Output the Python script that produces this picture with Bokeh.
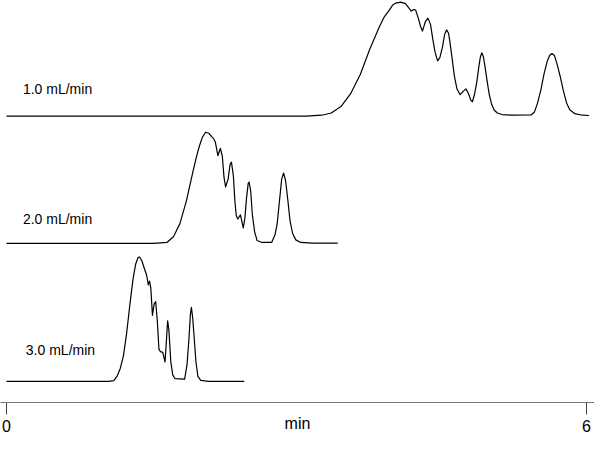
from bokeh.plotting import figure
from bokeh.models import Range1d, LinearAxis, FixedTicker, ColumnDataSource
from bokeh.core.properties import value
from bokeh.embed import file_html
from bokeh.resources import INLINE

# ---- data (time in min, signal in arbitrary units) ----
t_1 = [0.000, 3.100, 3.260, 3.360, 3.460, 3.560, 3.660, 3.760, 3.860, 3.910, 3.960,
       3.993, 4.027, 4.077, 4.127, 4.160, 4.187, 4.213, 4.233, 4.260, 4.283, 4.303,
       4.333, 4.360, 4.387, 4.410, 4.433, 4.460, 4.483, 4.510, 4.533, 4.553, 4.573,
       4.583, 4.610, 4.633, 4.660, 4.693, 4.727, 4.753, 4.780, 4.803, 4.820, 4.843,
       4.867, 4.887, 4.903, 4.917, 4.933, 4.950, 4.970, 4.993, 5.017, 5.043, 5.077,
       5.127, 5.227, 5.427, 5.460, 5.493, 5.527, 5.560, 5.593, 5.620, 5.643, 5.667,
       5.693, 5.727, 5.760, 5.793, 5.827, 5.877, 5.960, 6.027]
s_1 = [0, 0, 1, 3.3, 10, 23.3, 43.3, 70, 93.3, 103.3, 110,
       115, 117.3, 118.3, 116.7, 112.7, 109, 110.7, 110, 101.7, 93.3, 88.3,
       98, 101.7, 95, 80, 66.7, 57.3, 60.7, 71.7, 85, 89.5, 86,
       80, 60, 41.7, 28.3, 22.3, 26, 28.3, 23.3, 16.7, 15, 23,
       36.7, 51.7, 61.7, 65.7, 61.7, 51.7, 38, 23, 13, 6.7, 3.3,
       1.7, 1, 1.3, 4, 13.3, 26.7, 43.3, 56.7, 63.3, 65, 63.3,
       55, 41.7, 26.7, 14, 6.7, 2.7, 1, 0.7]

t_2 = [0.000, 1.500, 1.560, 1.660, 1.727, 1.793, 1.860, 1.927, 1.960, 1.993, 2.027,
       2.060, 2.093, 2.120, 2.143, 2.160, 2.187, 2.213, 2.233, 2.250, 2.267, 2.293,
       2.313, 2.327, 2.347, 2.363, 2.377, 2.393, 2.420, 2.450, 2.467, 2.483, 2.500,
       2.510, 2.527, 2.543, 2.567, 2.593, 2.643, 2.743, 2.777, 2.800, 2.827, 2.847,
       2.867, 2.887, 2.910, 2.933, 2.960, 2.993, 3.043, 3.160, 3.427]
s_2 = [0, 0, 0.3, 1, 7, 20.3, 43.7, 73.7, 87.7, 100.3, 110.3,
       115.3, 114.3, 111, 108.7, 105.3, 91, 98.7, 90.3, 68.7, 58.7, 67,
       82, 84.3, 70.3, 43.7, 28.7, 25.3, 29.7, 16, 27, 47, 62,
       63.7, 53.7, 30.3, 12, 3, 1, 1, 8.7, 20.3, 47, 67,
       73, 65.3, 45.3, 23.7, 10.3, 3.7, 1, 0.3, 0.3]

t_3 = [0.000, 1.060, 1.110, 1.143, 1.177, 1.210, 1.243, 1.277, 1.310, 1.337, 1.360,
       1.377, 1.400, 1.427, 1.450, 1.467, 1.480, 1.493, 1.510, 1.527, 1.543, 1.560,
       1.577, 1.593, 1.617, 1.640, 1.653, 1.667, 1.680, 1.700, 1.720, 1.743, 1.843,
       1.867, 1.887, 1.903, 1.913, 1.927, 1.943, 1.960, 1.980, 2.010, 2.093, 2.460]
s_3 = [0, 0, 0.7, 5, 13.3, 26.7, 50, 80, 106.7, 121.7, 128.3,
       129, 125, 116.7, 110, 100, 104, 96.7, 68.3, 80, 82.7, 63.3,
       33.3, 30.7, 30, 20, 40, 62.7, 53.3, 20, 6.7, 2.7, 2.3,
       16.7, 43.3, 70, 76.7, 65, 43.3, 20, 5, 1, 0, 0]

flow_labels = ["1.0 mL/min", "2.0 mL/min", "3.0 mL/min"]
x_ticks = [0, 6]
x_title = "min"

# ---- layout constants ----
baselines = [297, 165, 22]
label_x = [0.17, 0.17, 0.20]
label_dy = [28, 25, 32]

FONT = "Liberation Sans Narrow, Liberation Sans, Arial, sans-serif"

p = figure(width=594, height=434, output_backend="svg", toolbar_location=None,
           x_range=Range1d(-0.062, 6.083), y_range=Range1d(0, 417),
           x_axis_location=None, y_axis_location=None,
           min_border_left=0, min_border_right=0, min_border_top=0, min_border_bottom=0)
p.xgrid.visible = False
p.ygrid.visible = False
p.outline_line_color = None

for t, s, b in zip([t_1, t_2, t_3], [s_1, s_2, s_3], baselines):
    src = ColumnDataSource(dict(t=t, y=[v + b for v in s]))
    p.line("t", "y", source=src, line_color="black", line_width=1.2,
           line_join="round")

lab_src = ColumnDataSource(dict(x=label_x,
                                y=[b + d for b, d in zip(baselines, label_dy)],
                                txt=flow_labels))
p.text("x", "y", text="txt", source=lab_src, text_font=value(FONT),
       text_font_size="14px", text_baseline="middle", text_align="left",
       text_color="black")

ax = LinearAxis(ticker=FixedTicker(ticks=x_ticks), axis_label=x_title)
ax.major_tick_out = 12
ax.major_tick_in = 0
ax.minor_tick_out = 0
ax.minor_tick_in = 0
ax.axis_line_color = "#777777"
ax.major_tick_line_color = "#444444"
ax.major_label_standoff = 5
ax.major_label_text_font = FONT
ax.major_label_text_font_size = "16px"
ax.major_label_text_color = "black"
ax.axis_label_text_font = FONT
ax.axis_label_text_font_size = "16px"
ax.axis_label_text_font_style = "normal"
ax.axis_label_text_color = "black"
ax.axis_label_standoff = -20
p.add_layout(ax, "below")

open("out.html", "w").write(file_html(p, INLINE))
